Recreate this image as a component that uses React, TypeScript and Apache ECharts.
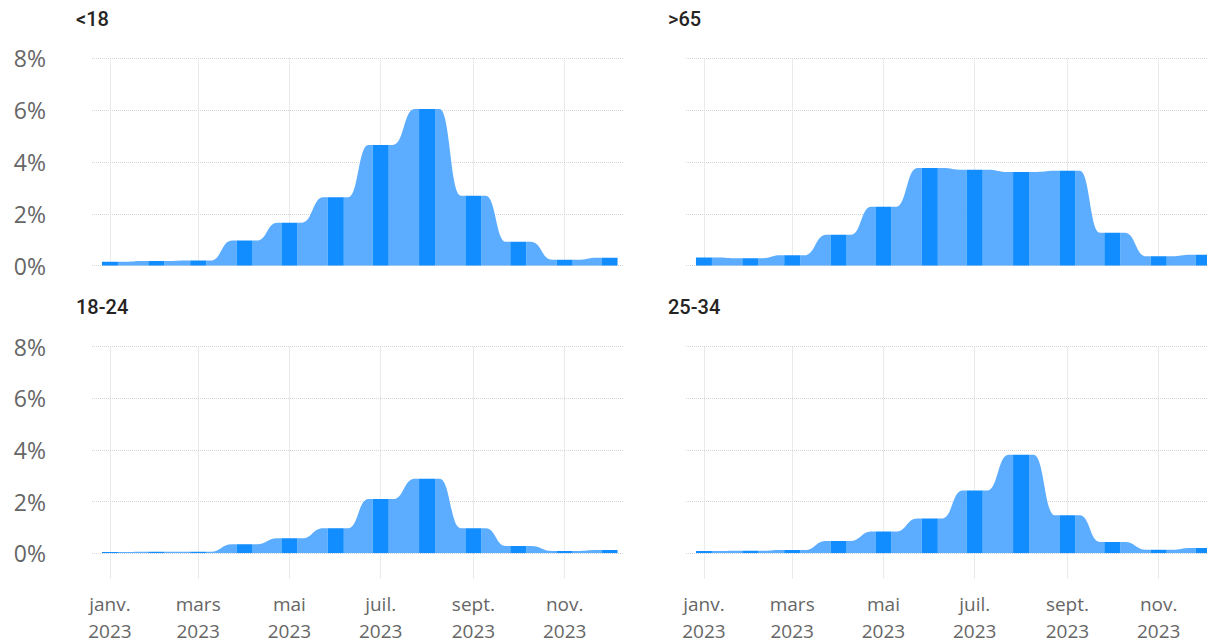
import React, { useEffect, useRef } from 'react';
import * as echarts from 'echarts';

// ---- data ----
const months = [
  '2023-01-01', '2023-02-01', '2023-03-01', '2023-04-01', '2023-05-01', '2023-06-01',
  '2023-07-01', '2023-08-01', '2023-09-01', '2023-10-01', '2023-11-01', '2023-12-01',
];
const under18 = [0.15, 0.18, 0.2, 0.97, 1.66, 2.64, 4.66, 6.04, 2.7, 0.92, 0.23, 0.31];
const over65 = [0.32, 0.29, 0.4, 1.19, 2.27, 3.77, 3.7, 3.61, 3.66, 1.27, 0.36, 0.42];
const age18to24 = [0.05, 0.06, 0.06, 0.35, 0.58, 0.97, 2.1, 2.89, 0.97, 0.28, 0.09, 0.13];
const age25to34 = [0.09, 0.1, 0.13, 0.48, 0.84, 1.35, 2.43, 3.82, 1.47, 0.44, 0.14, 0.21];
const panelTitles = ['<18', '>65', '18-24', '25-34'];
const tickDates = ['2023-01-01', '2023-03-01', '2023-05-01', '2023-07-01', '2023-09-01', '2023-11-01'];
const tickLabels = ['janv.\n2023', 'mars\n2023', 'mai\n2023', 'juil.\n2023', 'sept.\n2023', 'nov.\n2023'];
const xMin = '2022-12-20';
const xMaxLeft = '2023-12-10';
const xMaxRight = '2023-12-03 07:00';
const yMax = 8;
const yStep = 2;

const DARK = '#118DFF';
const LIGHT = '#5CADFF';
const GRID_COLOR = '#D6D6D6';
const LABEL_COLOR = '#666666';

const panels = [
  { title: panelTitles[0], values: under18, left: 92, width: 531, xMax: xMaxLeft, top: 58.3, height: 207.4, titleLeft: 76, titleTop: 9, showY: true, showX: false },
  { title: panelTitles[1], values: over65, left: 686, width: 521, xMax: xMaxRight, top: 58.3, height: 207.4, titleLeft: 668, titleTop: 9, showY: false, showX: false },
  { title: panelTitles[2], values: age18to24, left: 92, width: 531, xMax: xMaxLeft, top: 346.7, height: 206.6, titleLeft: 76, titleTop: 297, showY: true, showX: true },
  { title: panelTitles[3], values: age25to34, left: 686, width: 521, xMax: xMaxRight, top: 346.7, height: 206.6, titleLeft: 668, titleTop: 297, showY: false, showX: true },
];

const toTime = (d: string) => echarts.time.parse(d).getTime();

export default function App() {
  const ref = useRef<HTMLDivElement>(null);

  useEffect(() => {
    if (!ref.current) return;
    const chart = echarts.init(ref.current, undefined, { renderer: 'svg' });
    const tickValues = tickDates.map(toTime);

    const renderItem = (params: any, api: any) => {
      const i = params.dataIndexInside;
      const x = api.value(0);
      const v = api.value(1);
      const top = api.coord([x, v]);
      const base = api.coord([x, 0]);
      const hw = 8;
      const children: any[] = [];
      if (i < params.dataInsideLength - 1) {
        const nx = api.value(0, i + 1);
        const nv = api.value(1, i + 1);
        const ntop = api.coord([nx, nv]);
        const x1 = top[0] + hw;
        const y1 = top[1];
        const x2 = ntop[0] - hw;
        const y2 = ntop[1];
        const g = x2 - x1;
        const a = x1 + g * 0.15;
        const b = x2 - g * 0.15;
        const m = (a + b) / 2;
        const d = `M${x1} ${base[1]}L${x1} ${y1}L${a} ${y1}C${m} ${y1} ${m} ${y2} ${b} ${y2}L${x2} ${y2}L${x2} ${base[1]}Z`;
        children.push({ type: 'path', shape: { pathData: d }, style: { fill: LIGHT } });
      }
      children.push({
        type: 'rect',
        shape: { x: top[0] - hw, y: top[1], width: hw * 2, height: base[1] - top[1] },
        style: { fill: DARK },
      });
      return { type: 'group', children };
    };

    const option: any = {
      animation: false,
      backgroundColor: '#ffffff',
      title: panels.map((p) => ({
        text: p.title,
        left: p.titleLeft,
        top: p.titleTop,
        padding: 0,
        textStyle: { fontFamily: 'Roboto', fontWeight: 500, fontSize: 20, color: '#252423' },
      })),
      grid: panels.map((p) => ({
        left: p.left,
        top: p.top,
        width: p.width,
        height: p.height,
        containLabel: false,
        outerBoundsMode: 'none',
      })),
      xAxis: panels.map((p, k) => ({
        type: 'value',
        gridIndex: k,
        min: toTime(xMin),
        max: toTime(p.xMax),
        axisLine: { show: false },
        axisTick: {
          show: p.showX,
          length: 26,
          customValues: tickValues,
          lineStyle: { color: GRID_COLOR, type: 'dotted', width: 1 },
        },
        axisLabel: {
          show: p.showX,
          customValues: tickValues,
          margin: 37,
          fontFamily: 'Open Sans',
          fontSize: 19,
          lineHeight: 27,
          color: LABEL_COLOR,
          hideOverlap: false,
          showMinLabel: true,
          showMaxLabel: true,
          formatter: (val: number) => {
            const idx = tickValues.indexOf(val);
            return idx >= 0 ? tickLabels[idx] : '';
          },
        },
        splitLine: { show: true, lineStyle: { color: GRID_COLOR, type: 'dotted', width: 1 } },
      })),
      yAxis: panels.map((p, k) => ({
        type: 'value',
        gridIndex: k,
        min: 0,
        max: yMax,
        interval: yStep,
        axisLine: { show: false },
        axisTick: { show: false },
        axisLabel: {
          show: p.showY,
          formatter: '{value}%',
          margin: 46,
          fontFamily: 'Open Sans',
          fontSize: 23,
          color: LABEL_COLOR,
        },
        splitLine: { show: true, lineStyle: { color: GRID_COLOR, type: 'dotted', width: 1 } },
      })),
      series: panels.map((p, k) => ({
        type: 'custom',
        name: p.title,
        xAxisIndex: k,
        yAxisIndex: k,
        clip: true,
        encode: { x: 0, y: 1 },
        renderItem,
        data: months.map((mo, j) => [toTime(mo), p.values[j]]),
      })),
    };
    chart.setOption(option);
    return () => chart.dispose();
  }, []);

  return (
    <div
      ref={ref}
      style={{ position: 'fixed', left: 0, top: 0, width: 1207, height: 639 }}
    />
  );
}
